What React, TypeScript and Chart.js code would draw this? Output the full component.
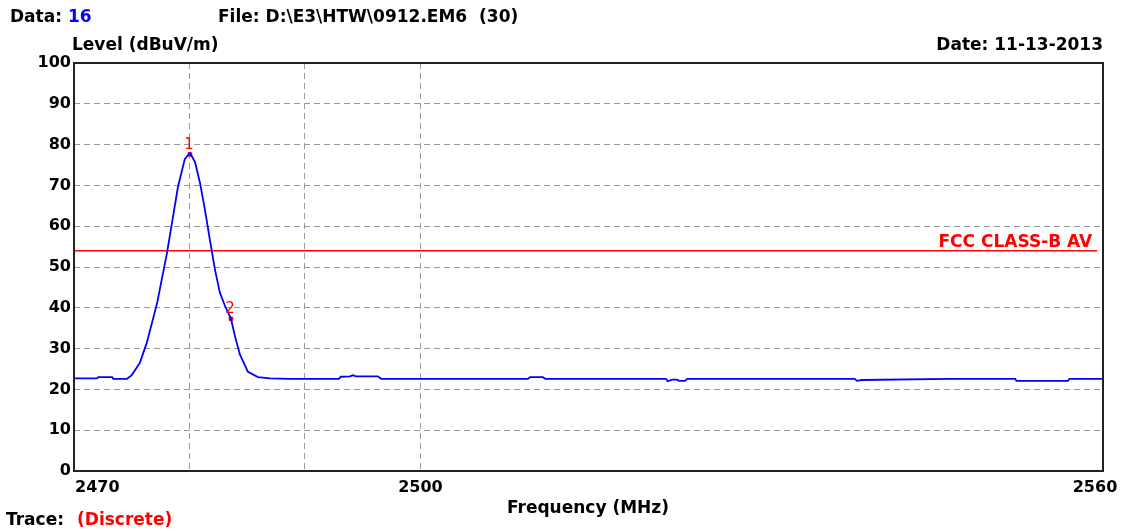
import React, { useEffect, useRef } from "react";
import { Chart, registerables } from "chart.js";

Chart.register(...registerables);

// ---- Data ----
const freqs = [
  2470, 2472.0, 2472.1, 2473.3, 2473.4, 2474.6, 2475.0, 2475.7, 2476.3, 2477.2,
  2478.05, 2478.57, 2479.0, 2479.6, 2480.04, 2480.48, 2480.91, 2481.34, 2481.77,
  2482.21, 2482.64, 2483.07, 2483.59, 2483.94, 2484.37, 2485.06, 2485.93, 2486.97,
  2488.7, 2492.94, 2493.1, 2493.9, 2494.16, 2494.4, 2496.3, 2496.6, 2509.3, 2509.5,
  2510.6, 2510.8, 2521.26, 2521.4, 2521.8, 2522.2, 2522.4, 2522.9, 2523.1, 2537.6,
  2537.8, 2538.2, 2545.8, 2551.5, 2551.6, 2556.06, 2556.2, 2559.1,
];
const levels = [
  22.7, 22.7, 23.0, 23.0, 22.6, 22.6, 23.5, 26.5, 31.4, 41.2,
  53.4, 62.3, 69.6, 76.5, 78.0, 75.7, 70.6, 64.0, 56.6,
  49.3, 43.6, 40.5, 37.3, 33.0, 28.5, 24.3, 23.0, 22.7,
  22.6, 22.6, 23.1, 23.2, 23.5, 23.2, 23.2, 22.6, 22.6, 23.0,
  23.0, 22.6, 22.6, 22.0, 22.4, 22.4, 22.1, 22.1, 22.6, 22.6,
  22.1, 22.3, 22.6, 22.6, 22.1, 22.1, 22.6, 22.6,
];
const limitFreqs = [2470, 2558.6];
const limitLevels = [54, 54];
const limitLabel = "FCC CLASS-B AV";
const markerFreqs = [2480.04, 2483.59];
const markerLevels = [77.6, 37.3];
const markerLabels = ["1", "2"];
const X_MIN = 2470;
const X_MAX = 2559.1;
const xGridValues = [2470, 2480, 2490, 2500, X_MAX];
const xTickValues = [2470, 2500, X_MAX];
const xTickLabels = ["2470", "2500", "2560"];
const Y_MIN = 0;
const Y_MAX = 100;
const Y_STEP = 10;

const FONT = "DejaVu Sans";

const overlayPlugin = {
  id: "overlay",
  afterDraw(chart: any) {
    const ctx = chart.ctx as CanvasRenderingContext2D;
    const area = chart.chartArea;
    const xs = chart.scales.x;
    const ys = chart.scales.y;
    ctx.save();
    // frame
    ctx.strokeStyle = "#222";
    ctx.lineWidth = 2;
    ctx.strokeRect(area.left, area.top, area.right - area.left, area.bottom - area.top);

    ctx.textBaseline = "middle";
    const bold = `bold 17px "${FONT}"`;
    ctx.font = bold;
    // header
    ctx.fillStyle = "#000";
    ctx.textAlign = "left";
    ctx.fillText("Data:", 10, 18);
    const dw = ctx.measureText("Data: ").width;
    ctx.fillStyle = "#0000ff";
    ctx.fillText("16", 10 + dw, 18);
    ctx.fillStyle = "#000";
    ctx.fillText("File: D:\\E3\\HTW\\0912.EM6  (30)", 218, 18);
    ctx.fillText("Level (dBuV/m)", 72, 46);
    ctx.textAlign = "right";
    ctx.fillText("Date: 11-13-2013", area.right, 46);

    // x tick labels
    ctx.font = `bold 16px "${FONT}"`;
    xTickValues.forEach((v, i) => {
      const px = xs.getPixelForValue(v);
      ctx.fillStyle = "#000";
      if (i === 0) {
        ctx.textAlign = "left";
        ctx.fillText(xTickLabels[i], px + 1, 488);
      } else if (i === xTickValues.length - 1) {
        ctx.textAlign = "center";
        ctx.fillText(xTickLabels[i], px - 8, 488);
      } else {
        ctx.textAlign = "center";
        ctx.fillText(xTickLabels[i], px, 488);
      }
    });
    ctx.font = bold;
    ctx.textAlign = "center";
    ctx.fillText("Frequency (MHz)", 588, 509);

    // trace
    ctx.textAlign = "left";
    ctx.fillText("Trace:", 6, 521);
    ctx.fillStyle = "#ff0000";
    ctx.fillText("(Discrete)", 77, 521);

    // limit label
    ctx.textAlign = "right";
    ctx.textBaseline = "alphabetic";
    ctx.fillText(limitLabel, xs.getPixelForValue(limitFreqs[1]) - 5, ys.getPixelForValue(limitLevels[1]) - 4);

    // marker labels
    ctx.font = `15px "${FONT}"`;
    ctx.textAlign = "center";
    ctx.textBaseline = "bottom";
    markerFreqs.forEach((f, i) => {
      const px = xs.getPixelForValue(f);
      const py = ys.getPixelForValue(markerLevels[i]);
      ctx.fillText(markerLabels[i], px - 1, py - 2);
    });
    ctx.restore();
  },
};

export default function App() {
  const ref = useRef<HTMLCanvasElement>(null);
  useEffect(() => {
    if (!ref.current) return;
    const chart = new Chart(ref.current, {
      type: "line",
      data: {
        datasets: [
          {
            data: freqs.map((f, i) => ({ x: f, y: levels[i] })),
            borderColor: "#0000ff",
            borderWidth: 1.8,
            pointRadius: 0,
            tension: 0,
          },
          {
            data: limitFreqs.map((f, i) => ({ x: f, y: limitLevels[i] })),
            borderColor: "#ff0000",
            borderWidth: 1.6,
            pointRadius: 0,
          },
          {
            data: markerFreqs.map((f, i) => ({ x: f, y: markerLevels[i] })),
            showLine: false,
            pointStyle: "rect",
            pointRadius: 2.5,
            backgroundColor: "#ff0000",
            borderColor: "#ff0000",
          },
        ],
      },
      options: {
        responsive: false,
        animation: false,
        devicePixelRatio: 1,
        layout: { padding: { left: 0, right: 23, top: 63, bottom: 0 } },
        plugins: { legend: { display: false }, tooltip: { enabled: false } },
        scales: {
          x: {
            type: "linear",
            min: X_MIN,
            max: X_MAX,
            afterBuildTicks: (scale: any) => {
              scale.ticks = xGridValues.map((v) => ({ value: v }));
            },
            afterFit: (scale: any) => {
              scale.height = 60;
            },
            ticks: { display: false },
            grid: {
              drawTicks: false,
              color: (c: any) =>
                c.tick && (c.tick.value === X_MIN || c.tick.value === X_MAX) ? "rgba(0,0,0,0)" : "#999999",
              lineWidth: 1,
            },
            border: { display: false, dash: [6, 4] },
          },
          y: {
            min: Y_MIN,
            max: Y_MAX,
            afterFit: (scale: any) => {
              scale.width = 74;
            },
            ticks: {
              stepSize: Y_STEP,
              padding: 3,
              color: "#000",
              font: { family: FONT, weight: "bold", size: 16 },
            },
            grid: {
              drawTicks: false,
              color: (c: any) =>
                c.tick && (c.tick.value === Y_MIN || c.tick.value === Y_MAX) ? "rgba(0,0,0,0)" : "#999999",
              lineWidth: 1,
            },
            border: { display: false, dash: [6, 4] },
          },
        },
      },
      plugins: [overlayPlugin],
    });
    return () => chart.destroy();
  }, []);
  return (
    <div style={{ position: "absolute", left: 0, top: 0, width: 1126, height: 531, background: "#fff" }}>
      <canvas ref={ref} width={1126} height={531} style={{ display: "block" }} />
    </div>
  );
}
